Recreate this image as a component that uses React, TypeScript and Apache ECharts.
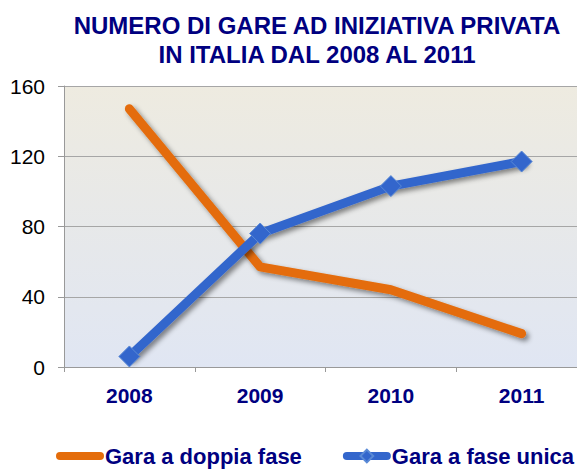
import React, { useEffect, useRef } from "react";
import * as echarts from "echarts";

const TITLE_LINES = ["NUMERO DI GARE AD INIZIATIVA PRIVATA", "IN ITALIA DAL 2008 AL 2011"];
const CATEGORIES = ["2008", "2009", "2010", "2011"];
const SERIES_DOPPIA_NAME = "Gara a doppia fase";
const SERIES_UNICA_NAME = "Gara a fase unica";
const DOPPIA_VALUES = [147, 57, 44, 19];
const UNICA_VALUES = [6, 76, 103, 117];
const Y_MIN = 0;
const Y_MAX = 160;
const Y_INTERVAL = 40;

const FONT = "'Liberation Sans', Arial, sans-serif";
const NAVY = "#000080";
const ORANGE = "#E46C0A";
const BLUE = "#3366CC";

export default function App() {
  const ref = useRef<HTMLDivElement>(null);

  useEffect(() => {
    if (!ref.current) return;
    const chart = echarts.init(ref.current, undefined, { renderer: "svg" });
    const lineShadow = {
      shadowColor: "rgba(0,0,0,0.45)",
      shadowBlur: 5,
      shadowOffsetX: 3,
      shadowOffsetY: 3,
    };
    chart.setOption({
      animation: false,
      backgroundColor: "#ffffff",
      textStyle: { fontFamily: FONT },
      graphic: [
        {
          type: "text",
          x: 317,
          y: 40,
          style: {
            text: TITLE_LINES.join("\n"),
            textAlign: "center",
            textVerticalAlign: "middle",
            fontFamily: FONT,
            fontSize: 24,
            fontWeight: "bold",
            lineHeight: 28.5,
            fill: NAVY,
          },
        },
      ],
      grid: {
        left: 64,
        top: 86,
        right: -10,
        bottom: 103,
        show: true,
        borderWidth: 0,
        backgroundColor: new echarts.graphic.LinearGradient(0, 0, 0, 1, [
          { offset: 0, color: "#EEEBE0" },
          { offset: 1, color: "#E0E6F3" },
        ]),
        outerBoundsMode: "none",
        containLabel: false,
      },
      legend: {
        left: 56,
        top: 445,
        width: 560,
        itemWidth: 40,
        itemHeight: 16,
        itemGap: 41,
        padding: 0,
        textStyle: { fontFamily: FONT, fontSize: 22, fontWeight: "bold", color: NAVY },
        lineStyle: { width: 8, cap: "round" },
        data: [
          { name: SERIES_DOPPIA_NAME, itemStyle: { opacity: 0 } },
          { name: SERIES_UNICA_NAME },
        ],
      },
      xAxis: {
        type: "category",
        data: CATEGORIES,
        boundaryGap: true,
        axisLine: { show: true, lineStyle: { color: "#999999", width: 1 } },
        axisTick: { show: true, length: 5, lineStyle: { color: "#999999" } },
        axisLabel: {
          margin: 18,
          fontFamily: FONT,
          fontSize: 21,
          fontWeight: "bold",
          color: NAVY,
        },
        splitLine: { show: false },
      },
      yAxis: {
        type: "value",
        min: Y_MIN,
        max: Y_MAX,
        interval: Y_INTERVAL,
        axisLine: { show: true, lineStyle: { color: "#999999", width: 1 } },
        axisTick: { show: true, length: 6, lineStyle: { color: "#999999" } },
        axisLabel: {
          margin: 19,
          fontFamily: FONT,
          fontSize: 21,
          color: "#000000",
        },
        splitLine: { show: true, lineStyle: { color: "#A6A6A6", width: 1 } },
      },
      series: [
        {
          name: SERIES_DOPPIA_NAME,
          type: "line",
          data: DOPPIA_VALUES,
          symbol: "none",
          lineStyle: { color: ORANGE, width: 9, cap: "round", join: "round", ...lineShadow },
          itemStyle: { color: ORANGE },
          z: 2,
        },
        {
          name: SERIES_UNICA_NAME,
          type: "line",
          data: UNICA_VALUES,
          symbol: "diamond",
          symbolSize: 21,
          lineStyle: { color: BLUE, width: 9, cap: "round", join: "round", ...lineShadow },
          itemStyle: { color: BLUE, borderColor: "#5A8AD6", borderWidth: 1 },
          z: 3,
        },
      ],
    });
    return () => chart.dispose();
  }, []);

  return (
    <div
      ref={ref}
      style={{ position: "fixed", left: 0, top: 0, width: 577, height: 470 }}
    />
  );
}
